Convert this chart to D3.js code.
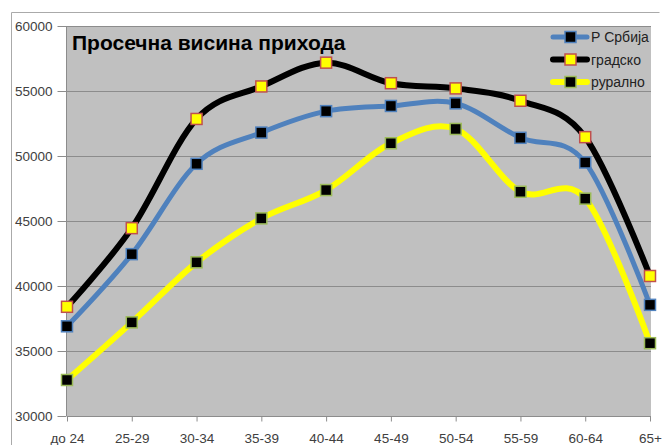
<!DOCTYPE html>
<html>
<head>
<meta charset="utf-8">
<script src="https://cdn.jsdelivr.net/npm/d3@7"></script>
<style>
  body { margin: 0; background: #fff; }
  svg { display: block; font-family: "Liberation Sans", Arial, sans-serif; }
</style>
</head>
<body>
<svg id="chart" width="662" height="445"></svg>
<script>
const categories = ["до 24", "25-29", "30-34", "35-39", "40-44", "45-49", "50-54", "55-59", "60-64", "65+"];
const srbija = [36900, 42450, 49400, 51800, 53450, 53850, 54050, 51400, 49500, 38550];
const gradsko = [38400, 44450, 52850, 55350, 57180, 55600, 55200, 54250, 51450, 40770];
const ruralno = [32770, 37200, 41820, 45200, 47380, 50980, 52080, 47250, 46720, 35600];
const yTicks = [30000, 35000, 40000, 45000, 50000, 55000, 60000];
const title = "Просечна висина прихода";

const series = [
  { name: "Р Србија", values: srbija, stroke: "#4F81BD", width: 5, fill: "#000", border: "#4F81BD" },
  { name: "градско", values: gradsko, stroke: "#000", width: 6, fill: "#FFFF00", border: "#C0504D" },
  { name: "рурално", values: ruralno, stroke: "#FFFF00", width: 6, fill: "#000", border: "#9BBB59" }
];

const svg = d3.select("#chart");
const plot = { left: 67, right: 651, top: 26, bottom: 416 };

// outer chart frame
svg.append("path")
  .attr("d", "M11.5,445 L11.5,12.5 L659.5,12.5")
  .attr("fill", "none")
  .attr("stroke", "#aaa");

const x = d3.scalePoint().domain(categories).range([67, 650]);
const y = d3.scaleLinear().domain([30000, 60000]).range([plot.bottom, plot.top]);

svg.append("rect")
  .attr("x", plot.left).attr("y", plot.top)
  .attr("width", plot.right - plot.left).attr("height", plot.bottom - plot.top)
  .attr("fill", "#C0C0C0");

// gridlines
svg.append("g")
  .selectAll("line")
  .data(yTicks.slice(1))
  .join("line")
  .attr("x1", plot.left).attr("x2", plot.right)
  .attr("y1", d => Math.round(y(d)) + 0.5).attr("y2", d => Math.round(y(d)) + 0.5)
  .attr("stroke", "#8c8c8c");

const yAxis = svg.append("g")
  .attr("transform", `translate(${plot.left - 0.5},0)`)
  .call(d3.axisLeft(y).tickValues(yTicks).tickSize(9).tickPadding(5).tickFormat(d3.format("d")));
yAxis.select(".domain").attr("stroke", "#8c8c8c").attr("d", `M0,${plot.top}V${plot.bottom}`);
yAxis.selectAll(".tick line").attr("stroke", "#8c8c8c");
yAxis.selectAll("text").attr("fill", "#404040").style("font-size", "13.5px").style("font-family", "Liberation Sans");

const xAxis = svg.append("g")
  .attr("transform", `translate(0,${plot.bottom + 0.5})`)
  .call(d3.axisBottom(x).tickSize(5).tickPadding(12));
xAxis.select(".domain").attr("stroke", "#8c8c8c").attr("d", `M${plot.left},0H${plot.right}`);
xAxis.selectAll(".tick line").attr("stroke", "#8c8c8c");
xAxis.selectAll("text").attr("fill", "#404040").style("font-size", "13.5px").style("font-family", "Liberation Sans");

const line = d3.line()
  .curve(d3.curveCardinal.tension(0))
  .x((d, i) => x(categories[i]))
  .y(d => y(d));

series.forEach(s => {
  const g = svg.append("g");
  g.append("path")
    .attr("d", line(s.values))
    .attr("fill", "none")
    .attr("stroke", s.stroke)
    .attr("stroke-width", s.width)
    .attr("stroke-linejoin", "round");
  g.selectAll("rect")
    .data(s.values)
    .join("rect")
    .attr("x", (d, i) => x(categories[i]) - 5.5)
    .attr("y", d => y(d) - 5.5)
    .attr("width", 11).attr("height", 11)
    .attr("fill", s.fill)
    .attr("stroke", s.border)
    .attr("stroke-width", 1.5);
});

svg.append("text")
  .attr("x", 72).attr("y", 50)
  .attr("font-weight", "bold")
  .attr("font-size", 21)
  .attr("fill", "#000")
  .text(title);

// legend
const legend = svg.append("g");
series.forEach((s, i) => {
  const ly = 37 + i * 22.5;
  legend.append("line")
    .attr("x1", 553).attr("x2", 587).attr("y1", ly).attr("y2", ly)
    .attr("stroke", s.stroke).attr("stroke-width", s.width)
    .attr("stroke-linecap", "round");
  legend.append("rect")
    .attr("x", 570.5 - 5.5).attr("y", ly - 5.5)
    .attr("width", 11).attr("height", 11)
    .attr("fill", s.fill).attr("stroke", s.border).attr("stroke-width", 1.5);
  legend.append("text")
    .attr("x", 591).attr("y", ly + 5)
    .attr("font-size", 14).attr("fill", "#222")
    .text(s.name);
});
</script>
</body>
</html>
